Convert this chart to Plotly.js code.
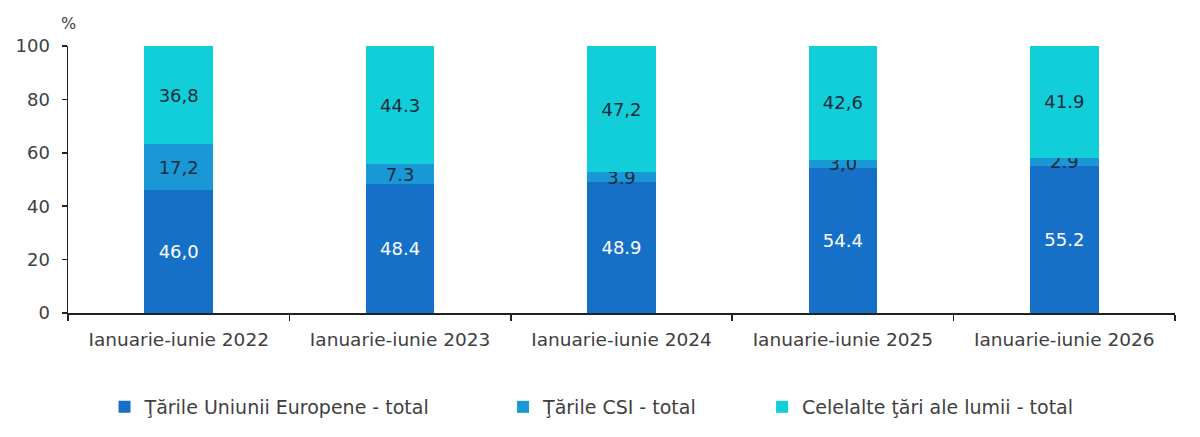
<!DOCTYPE html>
<html>
<head>
<meta charset="utf-8">
<script src="https://cdn.plot.ly/plotly-3.0.1.min.js"></script>
<style>html,body{margin:0;padding:0;background:#fff;}#chart{width:1200px;height:437px;}</style>
</head>
<body>
<div id="chart"></div>
<script>
const categories = ["Ianuarie-iunie 2022","Ianuarie-iunie 2023","Ianuarie-iunie 2024","Ianuarie-iunie 2025","Ianuarie-iunie 2026"];
const seriesNames = ["Ţările Uniunii Europene - total","Ţările CSI - total","Celelalte ţări ale lumii - total"];
const euValues = [46.0, 48.4, 48.9, 54.4, 55.2];
const csiValues = [17.2, 7.3, 3.9, 3.0, 2.9];
const otherValues = [36.8, 44.3, 47.2, 42.6, 41.9];
const euLabels = ["46,0","48.4","48.9","54.4","55.2"];
const csiLabels = ["17,2","7.3","3.9","3,0","2.9"];
const otherLabels = ["36,8","44.3","47,2","42,6","41.9"];
const yTicks = [0,20,40,60,80,100];

const FONT = "'DejaVu Sans', sans-serif";
const colors = ["#1670C8","#1A98D6","#12CED8"];
const textColors = ["#ffffff","#1b2b3c","#1b2b3c"];
const vals = [euValues, csiValues, otherValues];
const labels = [euLabels, csiLabels, otherLabels];
const legends = ["legend","legend2","legend3"];

const traces = vals.map((v,i)=>({
  type:"bar", x:categories, y:v, name:seriesNames[i],
  marker:{color:colors[i], line:{width:0}},
  text:labels[i], texttemplate:"%{text}", textposition:"inside", insidetextanchor:"middle",
  constraintext:"none", cliponaxis:false,
  textfont:{family:FONT, size:18, color:textColors[i]},
  hoverinfo:"skip", legend:legends[i]
}));

function leg(x){
  return {orientation:"h", x:x, xanchor:"left", y:-0.347, yanchor:"middle",
    font:{family:FONT, size:19, color:"#404040"}, bgcolor:"rgba(0,0,0,0)", itemwidth:30, tracegroupgap:0};
}

const layout = {
  width:1200, height:437,
  margin:{l:68, r:25, t:46, b:123},
  paper_bgcolor:"#fff", plot_bgcolor:"#fff",
  barmode:"stack", bargap:0.69,
  font:{family:FONT, size:17, color:"#404040"},
  xaxis:{type:"category", showgrid:false, showline:true, linecolor:"#222", linewidth:1.5,
    ticks:"outside", tickson:"boundaries", ticklen:6, tickcolor:"#222", tickwidth:1.5,
    ticklabelstandoff:9,
    tickfont:{family:FONT, size:18.5, color:"#404040"}, zeroline:false},
  yaxis:{range:[0,100], tickvals:yTicks, ticktext:yTicks.map(String), showgrid:false,
    showline:true, linecolor:"#222", linewidth:1.5, ticks:"outside", ticklen:5, tickcolor:"#222", tickwidth:1.5,
    ticklabelstandoff:8,
    tickfont:{family:FONT, size:18, color:"#404040"}, zeroline:false},
  legend:leg(0.033), legend2:leg(0.393), legend3:leg(0.627),
  annotations:[{text:"%", xref:"paper", yref:"paper", x:0, y:1.085, xanchor:"center", yanchor:"middle",
    showarrow:false, font:{family:FONT, size:16, color:"#404040"}}],
  showlegend:true
};

Plotly.newPlot("chart", traces, layout, {staticPlot:true, displayModeBar:false});
</script>
</body>
</html>
